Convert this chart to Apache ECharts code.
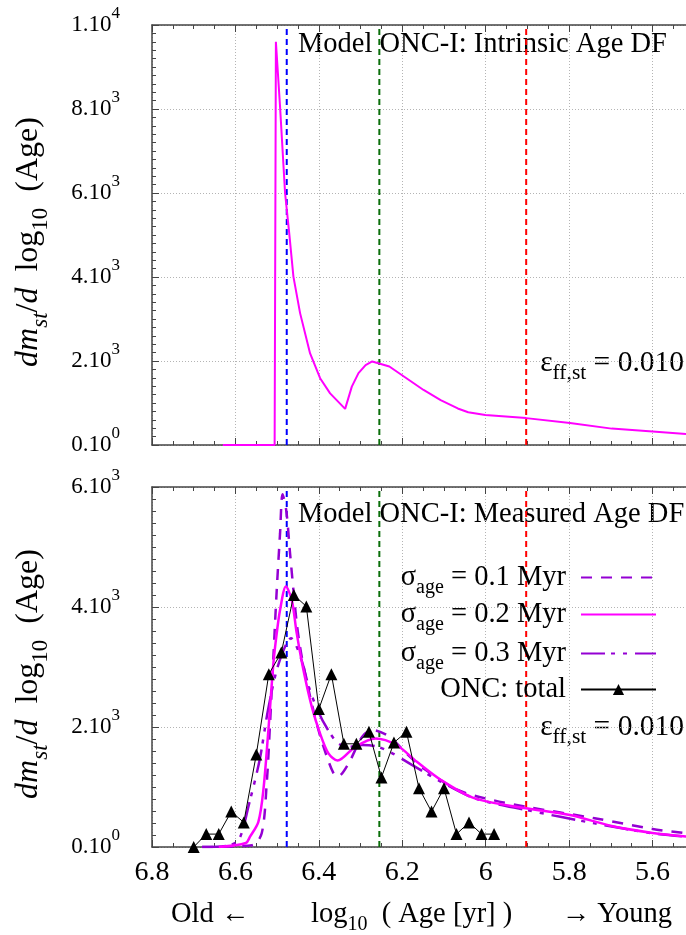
<!DOCTYPE html>
<html>
<head>
<meta charset="utf-8">
<script src="https://cdn.jsdelivr.net/npm/echarts@6/dist/echarts.min.js"></script>
<style>
  html, body { margin: 0; padding: 0; background: #fff; }
  #chart { width: 686px; height: 935px; }
</style>
</head>
<body>
<div id="chart"></div>
<script>
// ---- data ----
// top panel: intrinsic age DF
var intrinsicAge = [6.63, 6.506, 6.503, 6.493, 6.481, 6.471, 6.461, 6.445, 6.421, 6.397, 6.373, 6.337,
  6.321, 6.305, 6.288, 6.272, 6.231, 6.190, 6.149, 6.108, 6.067, 6.042, 6.001, 5.903, 5.798, 5.698, 5.600, 5.519];
var intrinsicDF = [0, 0, 9600, 8050, 6000, 5040, 4010, 3140, 2180, 1590, 1230, 860,
  1390, 1710, 1900, 1990, 1870, 1590, 1310, 1070, 870, 780, 715, 640, 525, 390, 320, 262];

// bottom panel: measured age DF for three age errors
var sig1Age = [6.68, 6.56, 6.537, 6.525, 6.517, 6.509, 6.501, 6.493, 6.487, 6.478, 6.469, 6.453, 6.441, 6.421,
  6.401, 6.381, 6.365, 6.355, 6.329, 6.296, 6.272, 6.231, 6.190, 6.149, 6.067, 5.985, 5.903, 5.739, 5.600, 5.519];
var sig1DF = [0, 30, 228, 1060, 2060, 3170, 4280, 5230, 5880, 5600, 4890, 3730, 3170, 2510,
  1950, 1510, 1230, 1170, 1390, 1840, 1950, 1840, 1560, 1310, 950, 785, 670, 480, 300, 228];

var sig2Age = [6.64, 6.575, 6.565, 6.545, 6.533, 6.521, 6.509, 6.501, 6.493, 6.479, 6.465, 6.453, 6.437, 6.417,
  6.397, 6.377, 6.355, 6.313, 6.264, 6.214, 6.165, 6.108, 6.026, 5.903, 5.798, 5.698, 5.600, 5.519];
var sig2DF = [0, 67, 172, 420, 950, 1950, 3060, 3560, 3950, 4340, 4120, 3560, 2950, 2340,
  1890, 1560, 1440, 1670, 1810, 1700, 1420, 1120, 810, 645, 533, 350, 235, 175];

var sig3Age = [6.68, 6.62, 6.592, 6.567, 6.542, 6.522, 6.501, 6.481, 6.467, 6.444, 6.424, 6.403, 6.378,
  6.354, 6.329, 6.296, 6.264, 6.231, 6.182, 6.108, 6.026, 5.903, 5.739, 5.600, 5.519];
var sig3DF = [0, 20, 117, 728, 1450, 2280, 2950, 3340, 3480, 3170, 2670, 2280, 1950,
  1730, 1670, 1700, 1680, 1590, 1390, 1090, 810, 617, 394, 228, 172];

// observed ONC total
var oncAge = [6.70, 6.67, 6.64, 6.61, 6.58, 6.55, 6.52, 6.49, 6.46, 6.43, 6.40, 6.37, 6.34,
  6.31, 6.28, 6.25, 6.22, 6.19, 6.16, 6.13, 6.10, 6.07, 6.04, 6.01, 5.98];
var oncDF = [0, 215, 215, 590, 410, 1540, 2880, 3240, 4200, 4010, 2300, 2880, 1720,
  1720, 1920, 1160, 1740, 1920, 980, 590, 980, 215, 410, 215, 215];

// vertical reference ages (3, 1.8, 0.8 Myr)
var refAges = [6.477, 6.255, 5.903];

var legendNames = ['sig1', 'sig2', 'sig3', 'onc'];
var legendLabels = ['0.1', '0.2', '0.3'];

// ---- helpers ----
var FONT = 'Liberation Serif';
function pairs(xs, ys) {
  return xs.map(function (x, i) { return [x, ys[i]]; });
}
function sciLabel(v) {
  if (v === 0) return '{b|0.10}{p|0}';
  var e = Math.floor(Math.log10(v) + 1e-9);
  var m = Math.round(v / Math.pow(10, e));
  return '{b|' + m + '.10}{p|' + e + '}';
}
var rich = {
  n: { fontFamily: FONT, fontSize: 28.5, color: '#000' },
  s: { fontFamily: FONT, fontSize: 20, color: '#000', padding: [20, 0, 0, 0] },
  ne: { fontFamily: FONT, fontSize: 28.5, color: '#000', padding: [0, 10, 0, 0] },
  e: { fontFamily: FONT, fontSize: 29.5, color: '#000' },
  es: { fontFamily: FONT, fontSize: 21.5, color: '#000', padding: [21, 0, 0, 0] }
};
var nameRich = {
  n: { fontFamily: FONT, fontSize: 32, color: '#000' },
  i: { fontFamily: FONT, fontSize: 32, fontStyle: 'italic', color: '#000' },
  s: { fontFamily: FONT, fontSize: 23, color: '#000', padding: [23, 0, 0, 0] },
  is: { fontFamily: FONT, fontSize: 23, fontStyle: 'italic', color: '#000', padding: [23, 0, 0, 0] }
};
var tickRich = {
  b: { fontFamily: FONT, fontSize: 23, color: '#000' },
  p: { fontFamily: FONT, fontSize: 17, color: '#000', padding: [0, 0, 22, 0] }
};

var axisLine = { lineStyle: { color: '#444', width: 1.5 } };
var axisTick = { inside: true, length: 7, lineStyle: { color: '#444', width: 1 } };
var splitLine = { show: true, lineStyle: { color: '#b4b4b4', width: 1, type: [1, 2] } };

function xAxisFor(grid, pos, labels) {
  return {
    type: 'value', gridIndex: grid, position: pos, inverse: true,
    min: 5.4, max: 6.8, interval: 0.2,
    axisLine: axisLine, axisTick: axisTick,
    minorTick: { show: true, splitNumber: 4, length: 4, lineStyle: { color: '#444' } },
    splitLine: pos === 'bottom' ? splitLine : { show: false },
    axisLabel: labels ? { show: true, margin: 12, fontFamily: FONT, fontSize: 28, color: '#000' } : { show: false }
  };
}
function yAxisFor(grid, max) {
  return {
    type: 'value', gridIndex: grid, min: 0, max: max, interval: 2000,
    axisLine: axisLine, axisTick: axisTick,
    minorTick: { show: true, splitNumber: 10, length: 4, lineStyle: { color: '#444' } },
    splitLine: splitLine,
    axisLabel: { margin: 32, formatter: sciLabel, rich: tickRich },
    name: '{i|dm}{is|st}{n|/}{i|d}{n|  log}{s|10}{n|  (Age)}',
    nameLocation: 'middle', nameRotate: 90, nameGap: 100,
    nameTextStyle: { rich: nameRich, padding: [0, 14, 0, 0] }
  };
}

var refColors = ['#0000ff', '#0a6e0a', '#ff0000'];
var series = [];
[0, 1].forEach(function (g) {
  refAges.forEach(function (a, k) {
    series.push({
      name: 'ref' + g + k, type: 'line', xAxisIndex: g * 2, yAxisIndex: g,
      data: [[a, 0], [a, g === 0 ? 10000 : 6000]], symbol: 'none', silent: true,
      lineStyle: { color: refColors[k], width: 2, type: [6, 4] }, z: 3
    });
  });
});
series.push({
  name: 'intrinsic', type: 'line', xAxisIndex: 0, yAxisIndex: 0,
  data: pairs(intrinsicAge, intrinsicDF), symbol: 'none',
  lineStyle: { color: '#ff00ff', width: 2 }, z: 4
});
series.push({
  name: 'sig1', type: 'line', xAxisIndex: 2, yAxisIndex: 1,
  data: pairs(sig1Age, sig1DF), symbol: 'none', smooth: 0.3,
  color: '#9400d3', lineStyle: { color: '#9400d3', width: 2.5, type: [11, 9] }, z: 4
});
series.push({
  name: 'sig2', type: 'line', xAxisIndex: 2, yAxisIndex: 1,
  data: pairs(sig2Age, sig2DF), symbol: 'none', smooth: 0.3,
  color: '#ff00ff', lineStyle: { color: '#ff00ff', width: 2.5 }, z: 5
});
series.push({
  name: 'sig3', type: 'line', xAxisIndex: 2, yAxisIndex: 1,
  data: pairs(sig3Age, sig3DF), symbol: 'none', smooth: 0.3,
  color: '#9400d3', lineStyle: { color: '#9400d3', width: 2.5, type: [24, 6, 4, 8, 4, 8] }, z: 4
});
series.push({
  name: 'onc', type: 'line', xAxisIndex: 2, yAxisIndex: 1,
  data: pairs(oncAge, oncDF), symbol: 'triangle', symbolSize: 12, showAllSymbol: true,
  color: '#000', itemStyle: { color: '#000' }, lineStyle: { color: '#000', width: 1 }, z: 6
});

function legendText(name) {
  var k = legendNames.indexOf(name);
  if (k < 3) return '{n|σ}{s|age}{ne| = ' + legendLabels[k] + ' Myr}';
  return '{ne|ONC: total}';
}
var legendTops = [563, 600, 639, 675];
var legends = legendNames.map(function (nm, k) {
  return {
    data: [nm], right: 29, top: legendTops[k], align: 'right', orient: 'vertical',
    itemWidth: 75, itemHeight: 14, padding: 0, selectedMode: false,
    itemStyle: k < 3 ? { opacity: 0 } : {},
    formatter: legendText, textStyle: { rich: rich }
  };
});

function txt(x, y, text, align) {
  return {
    type: 'text', x: x, y: y, silent: true,
    style: { text: text, rich: rich, font: '28px ' + FONT, fill: '#000', align: align || 'left', verticalAlign: 'middle' }
  };
}

var chart = echarts.init(document.getElementById('chart'), null, { renderer: 'canvas' });
var option = {
  animation: false,
  backgroundColor: '#fff',
  grid: [
    { left: 152, top: 25, width: 584, height: 420, outerBoundsMode: 'none', containLabel: false },
    { left: 152, top: 487, width: 584, height: 360, outerBoundsMode: 'none', containLabel: false }
  ],
  xAxis: [xAxisFor(0, 'bottom', false), xAxisFor(0, 'top', false), xAxisFor(1, 'bottom', true), xAxisFor(1, 'top', false)],
  yAxis: [yAxisFor(0, 10000), yAxisFor(1, 6000)],
  legend: legends,
  series: series,
  graphic: [
    txt(298, 45, '{n|Model ONC-I: Intrinsic Age DF}'),
    txt(298, 515, '{n|Model ONC-I: Measured Age DF}'),
    txt(684, 363, '{e|ε}{es|ff,st}{e| = 0.010}', 'right'),
    txt(684, 727, '{e|ε}{es|ff,st}{e| = 0.010}', 'right'),
    txt(171, 915, '{n|Old ←}'),
    txt(311, 915, '{n|log}{s|10}{n|  ( Age [yr] )}'),
    txt(672, 915, '{n|→ Young}', 'right')
  ]
};
chart.setOption(option);
window.addEventListener('resize', chart.resize);
</script>
</body>
</html>
